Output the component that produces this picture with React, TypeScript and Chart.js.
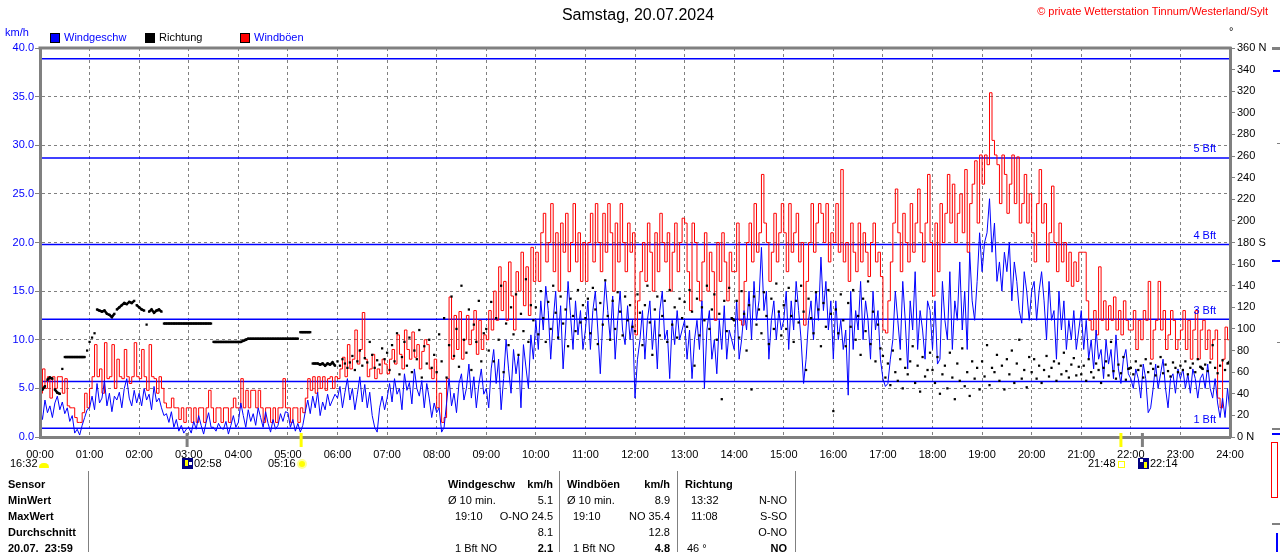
import React, { useEffect, useRef } from 'react';
import { Chart, registerables } from 'chart.js';

Chart.register(...registerables);

const FONT = '"Liberation Sans", Arial, Helvetica, sans-serif';

// 3-minute samples from 00:00 to 24:00 (481 values), one row per hour
const windSpeed = [
  3.0, 1.8, 3.8, 2.5, 3.2, 2.0, 3.5, 4.2, 2.8, 3.6, 2.4, 3.0, 1.6, 2.2, 0.4, 0.8, 0.2, 1.2, 2.0, 2.8,
  3.0, 4.2, 2.8, 5.5, 3.5, 4.0, 5.8, 3.2, 4.5, 2.6, 4.2, 3.8, 4.6, 3.0, 5.0, 6.0, 4.0, 3.2, 4.8, 3.5,
  4.5, 3.2, 5.0, 3.8, 4.4, 2.8, 5.2, 3.6, 4.0, 3.0, 2.2, 2.4, 1.5, 2.6, 1.0, 1.8, 0.6, 1.2, 0.4, 0.8,
  1.0, 0.4, 1.6, 0.8, 2.2, 1.2, 0.3, 1.5, 2.5, 1.0, 1.0, 0.6, 1.4, 0.9, 0.8, 1.6, 0.3, 1.2, 2.2, 1.0,
  1.5, 3.5, 2.2, 1.0, 2.8, 1.6, 2.4, 1.2, 3.0, 2.0, 1.0, 2.6, 1.4, 0.5, 1.8, 0.8, 1.2, 2.4, 1.6, 2.6,
  2.5, 1.0, 1.8, 0.6, 1.4, 0.5, 1.2, 2.6, 3.8, 2.4, 4.2, 3.0, 4.6, 2.2, 3.6, 2.8, 4.4, 3.2, 3.8, 4.4,
  4.0, 5.2, 3.0, 4.6, 6.0, 3.8, 5.0, 2.8, 4.4, 6.2, 3.6, 5.4, 3.0, 4.6, 2.2, 1.0, 0.5, 3.0, 4.2, 2.8,
  4.0, 5.5, 3.6, 6.0, 4.4, 5.0, 2.8, 6.5, 4.8, 5.6, 3.4, 7.0, 5.0, 4.2, 5.8, 3.0, 5.5, 4.0, 2.0, 3.5,
  2.5, 3.0, 0.5, 1.0, 3.5, 6.0, 3.2, 4.5, 2.5, 5.5, 6.5, 3.8, 5.0, 7.5, 4.0, 6.2, 3.0, 5.4, 7.0, 4.4,
  5.0, 3.0, 7.0, 9.0, 5.5, 8.0, 2.8, 6.0, 10.0, 7.0, 4.5, 9.0, 6.5, 8.4, 3.0, 9.5, 7.2, 5.0, 10.5, 8.0,
  12, 9, 14, 11, 15.5, 13, 8, 12, 15, 10, 13.5, 7, 11, 16, 12.5, 9, 14, 10.5, 13, 9,
  11, 14, 9, 13, 15, 11, 6.5, 12, 16, 13, 10, 14.5, 8, 12, 15, 11, 9.5, 13.5, 10, 12,
  4, 8, 10, 13, 8, 12, 14, 9, 12, 7, 13, 15, 10, 11, 6, 12, 9.5, 13, 10, 11,
  12, 8, 11, 6, 10, 12, 9, 14, 5, 11, 13, 8, 10, 6.5, 12, 9, 13.5, 8, 11, 10,
  9, 14, 8, 10, 13, 11, 15, 10, 16, 12, 14, 19.5, 13, 15, 8, 12, 14, 10, 13, 11,
  12, 15, 9, 14, 11, 16, 13, 10, 5.5, 8, 12, 14, 10, 15, 12, 18.5, 13, 16, 11, 14,
  8, 14, 10, 12, 9, 11, 4.3, 15, 9, 13, 11, 16, 10, 14, 12, 8, 15, 11, 13, 8,
  6, 5.2, 5.5, 8, 10, 15, 12, 9, 16, 12, 7, 14, 11, 17, 9, 13, 11, 8, 14, 13,
  9, 14, 7.5, 8, 16, 12, 10, 17, 9, 14, 12, 18, 11, 15, 9, 19, 14, 12, 16, 21,
  17, 20, 21, 24.5, 19, 22, 16, 18, 15, 19, 17, 20, 14, 18, 16, 13, 11.7, 17, 15, 12,
  15, 16, 12, 15, 17, 14, 10, 16, 12, 13, 8, 15, 11, 14, 9, 12, 10, 13, 9, 11,
  13, 9, 12, 8, 10, 7, 11, 8, 9, 6, 10, 7.5, 9, 6, 10.5, 7, 5.5, 8, 9, 6.5,
  6, 5, 7, 6, 4, 7.5, 6, 2.5, 3, 5, 7.5, 5, 6.5, 8, 5, 3, 6, 6.5, 4.5, 7,
  6, 7, 5, 6.5, 4.5, 7, 6, 4, 6, 6.5, 5, 7.5, 5, 4, 6, 3.5, 2, 4, 2, 5,
  2.5,
];

const windGust = [
  4.5, 7.0, 5.0, 6.2, 4.0, 6.2, 5.0, 6.2, 6.2, 4.5, 6.0, 3.2, 3.0, 3.0, 2.0, 1.5, 1.5, 2.5, 4.5, 3.0,
  5.0, 6.2, 9.5, 6.2, 7.0, 4.5, 9.7, 6.0, 6.2, 9.5, 5.0, 8.0, 6.2, 6.0, 9.0, 6.2, 5.5, 6.2, 9.7, 6.2,
  6.0, 9.0, 6.2, 4.8, 9.5, 6.2, 6.0, 4.5, 6.2, 5.0, 3.5, 3.0, 3.0, 4.0, 3.0, 3.0, 1.8, 3.0, 1.5, 3.0,
  3.0, 1.5, 3.0, 1.5, 3.0, 3.0, 1.5, 3.0, 4.8, 3.0, 1.5, 3.0, 3.0, 1.5, 3.0, 3.0, 1.5, 3.0, 4.0, 3.0,
  3.0, 6.0, 3.0, 4.8, 3.0, 4.8, 4.8, 3.0, 4.8, 3.0, 1.5, 3.0, 3.0, 1.5, 3.0, 1.5, 3.0, 3.0, 6.0, 3.0,
  3.0, 1.5, 3.0, 3.0, 1.5, 3.0, 2.5, 4.0, 6.0, 4.8, 6.2, 4.5, 6.2, 5.0, 6.2, 4.8, 6.0, 6.2, 5.0, 6.2,
  6.0, 7.0, 8.2, 6.2, 9.5, 7.0, 8.0, 11.0, 7.5, 9.0, 12.8, 8.0, 6.2, 7.0, 8.5, 6.0, 7.0, 6.5, 8.0, 7.5,
  6.5, 8.0, 9.0, 7.5, 10.5, 8.5, 7.0, 11.0, 9.0, 8.0, 10.8, 8.2, 9.5, 7.0, 8.8, 10.0, 9.5, 7.0, 6.0, 8.0,
  3.0, 4.5, 1.5, 2.0, 6.0, 14.4, 8.0, 12.5, 9.0, 12.9, 8.0, 10.0, 12.5, 9.5, 11.0, 13.0, 8.5, 12.0, 9.0, 10.5,
  10, 13, 11, 15, 12, 17.5, 13, 16, 12, 18, 14.5, 11, 17, 15, 19, 13.5, 17.5, 12.5, 19.5, 16,
  19, 16, 21, 23, 18, 20, 24, 17, 21, 15, 22, 19, 23, 17, 20, 24, 18, 21, 16, 20,
  16, 20, 23, 18, 24, 20, 17, 23, 19, 24, 21, 15, 22, 18, 24, 20, 17, 22, 19, 21,
  10.5, 14, 17, 20, 16, 22, 19, 15, 21, 17, 23, 20, 18, 21, 15, 19, 22, 17, 20, 22.5,
  22, 17, 13, 22, 20, 16, 14, 18, 21, 15, 19, 17, 12, 20, 16, 21, 18, 14, 19, 17,
  17, 22, 12, 11.5, 16, 20, 22, 18, 24, 19, 21, 27, 22, 20, 16, 19, 23, 18, 21, 24,
  21, 17, 24, 19, 21, 23, 18, 20, 11.5, 16, 20, 24, 19, 22, 24, 23, 20, 24, 18, 21,
  20, 24, 19, 27.5, 18, 20, 16, 22, 19, 17, 22, 18, 21, 19, 16.5, 20, 22, 18, 19, 16.5,
  11, 10.7, 14, 18, 22, 25.5, 21, 17, 23, 20, 18, 24, 19, 22, 25.5, 21, 18, 22, 27, 20,
  14.5, 22, 17, 24, 20, 23, 27, 22, 26, 20, 23, 25, 21, 27.5, 19, 24, 26, 28.4, 22, 29,
  26, 29, 28, 35.4, 30.5, 29, 28, 24, 29, 27, 23, 26, 29, 24, 28.8, 22, 24, 27, 22, 25,
  21, 18, 24, 27.5, 22, 24, 18, 21, 25.8, 20, 17, 22, 18, 20, 16, 19, 15.5, 18, 16, 19,
  19, 19, 14, 12, 11, 13, 10.5, 17.5, 12, 14, 11, 13.5, 12, 14.4, 11, 13, 10.5, 14, 12, 11,
  11, 13, 9, 12, 10, 13, 12, 16, 8, 11, 12, 16, 11, 13, 9, 10.5, 13, 12, 9, 10,
  11, 13, 9, 12, 8, 11, 13, 8, 11, 12, 9, 11, 8, 10, 11, 4, 3, 8, 11.3, 10,
  9,
];

const windDirection = [
  45, 44, 47, 53, 55, 54, 44, 41, 40, 63, 74, 74, 74, 74, 74, 74, 74, 74, 74, 80,
  88, 92, 96, 118, 117, 116, 117, 114, 113, 111, 114, 118, 120, 122, 124, 123, 125, 124, 126, 122,
  120, 118, 117, 104, 116, 118, 115, 117, 118, 116, 105, 105, 105, 105, 105, 105, 105, 105, 105, 105,
  105, 105, 105, 105, 105, 105, 105, 105, 105, 105, 88, 88, 88, 88, 88, 88, 88, 88, 88, 88,
  88, 88, 89, 90, 91, 91, 91, 91, 91, 91, 91, 91, 91, 91, 91, 91, 91, 91, 91, 91,
  91, 91, 91, 91, 91, 97, 97, 97, 97, 97, 68, 68, 68, 67, 68, 66, 68, 67, 69, 66,
  70, 66, 72, 68, 64, 69, 75, 62, 70, 80, 66, 73, 69, 88, 76, 64, 71, 67, 82, 72,
  78, 62, 85, 70, 96, 58, 74, 88, 66, 92, 60, 80, 72, 99, 55, 84, 68, 90, 64, 76,
  60, 95, 70, 110, 55, 85, 130, 75, 100, 65, 140, 90, 78, 118, 62, 104, 88, 126, 70, 96,
  100, 80, 125, 70, 110, 90, 140, 60, 105, 85, 120, 95, 132, 76, 114, 98, 146, 88, 122, 108,
  120, 95, 135, 110, 88, 125, 100, 140, 115, 92, 130, 105, 118, 84, 128, 112, 98, 136, 106, 122,
  110, 128, 96, 138, 118, 86, 124, 104, 145, 112, 90, 126, 100, 134, 116, 94, 130, 108, 122, 102,
  98, 132, 115, 85, 122, 140, 106, 76, 118, 130, 94, 112, 126, 88, 136, 104, 120, 92, 128, 110,
  125, 102, 136, 116, 66, 128, 94, 120, 108, 140, 100, 118, 132, 90, 114, 35, 126, 98, 138, 110,
  108, 126, 92, 135, 114, 80, 122, 44, 130, 104, 118, 96, 134, 112, 86, 128, 100, 142, 116, 94,
  122, 100, 138, 112, 88, 126, 106, 140, 116, 62, 128, 110, 96, 134, 118, 84, 124, 102, 136, 114,
  24, 118, 96, 132, 108, 84, 124, 102, 136, 90, 112, 76, 128, 98, 144, 86, 116, 70, 104, 82,
  75, 55, 68, 48, 80, 60, 52, 72, 45, 64, 58, 70, 84, 50, 66, 42, 74, 56, 62, 78,
  62, 50, 74, 40, 58, 66, 45, 78, 55, 35, 68, 52, 82, 47, 60, 38, 70, 54, 64, 44,
  70, 56, 85, 48, 64, 60, 76, 52, 66, 44, 72, 58, 80, 50, 68, 90, 54, 62, 46, 74,
  60, 72, 54, 66, 50, 62, 75, 56, 64, 70, 52, 68, 58, 78, 61, 55, 67, 73, 57, 65,
  58, 66, 52, 72, 60, 55, 68, 62, 50, 64, 70, 57, 88, 61, 54, 67, 59, 74, 53, 63,
  64, 58, 70, 62, 66, 55, 72, 60, 68, 63, 57, 65, 74, 59, 67, 61, 56, 69, 64, 60,
  66, 62, 70, 58, 64, 68, 60, 72, 65, 63, 67, 61, 69, 85, 64, 59, 66, 71, 62, 68,
  70,
];

const sampleMinutes = windSpeed.map((_, i) => i * 3);

const hourLabels = [
  '00:00', '01:00', '02:00', '03:00', '04:00', '05:00', '06:00', '07:00', '08:00',
  '09:00', '10:00', '11:00', '12:00', '13:00', '14:00', '15:00', '16:00', '17:00',
  '18:00', '19:00', '20:00', '21:00', '22:00', '23:00', '24:00',
];

const dirTickLabels: Record<number, string> = { 360: '360 N', 180: '180 S', 0: '0 N' };

const bftLevels = [0.9, 5.7, 12.1, 19.8, 28.7, 38.9];
const bftLabels = ['1 Bft', '', '3 Bft', '4 Bft', '5 Bft', ''];

// moonset, sunrise, sunset, moonrise (minutes of day)
const astroMinutes = [178, 316, 1308, 1334];
const astroColors = ['#808080', '#FFFF00', '#FFFF00', '#808080'];

const rowLabels = ['Sensor', 'MinWert', 'MaxWert', 'Durchschnitt', '20.07.  23:59'];
const windCol = [['Ø 10 min.', '5.1'], ['19:10', 'O-NO 24.5'], ['', '8.1'], ['1 Bft NO', '2.1']];
const gustCol = [['Ø 10 min.', '8.9'], ['19:10', 'NO 35.4'], ['', '12.8'], ['1 Bft NO', '4.8']];
const dirCol = [['13:32', 'N-NO'], ['11:08', 'S-SO'], ['', 'O-NO'], ['46 °', 'NO']];

type TxtProps = {
  x: number; cy: number; children: React.ReactNode; color?: string; size?: number;
  bold?: boolean; align?: 'left' | 'right' | 'center';
};
const Txt = ({ x, cy, children, color = '#000', size = 11, bold = false, align = 'left' }: TxtProps) => {
  const style: React.CSSProperties = {
    position: 'absolute', top: cy - size * 0.6, lineHeight: `${Math.round(size * 1.2)}px`,
    fontSize: size, fontWeight: bold ? 'bold' : 'normal', color, whiteSpace: 'pre', fontFamily: FONT,
  };
  if (align === 'left') style.left = x;
  else if (align === 'right') style.right = 1280 - x;
  else { style.left = x - 300; style.width = 600; style.textAlign = 'center'; }
  return <div style={style}>{children}</div>;
};

const Box = (p: { l: number; t: number; w: number; h: number; bg?: string; border?: string; radius?: string }) => (
  <div style={{
    position: 'absolute', left: p.l, top: p.t, width: p.w, height: p.h, background: p.bg || 'transparent',
    border: p.border, borderRadius: p.radius, boxSizing: 'border-box',
  }} />
);

export default function App() {
  const ref = useRef<HTMLCanvasElement | null>(null);

  useEffect(() => {
    const canvas = ref.current;
    if (!canvas) return;
    const xy = (arr: number[]) => arr.map((v, i) => ({ x: sampleMinutes[i], y: v }));

    const overlay = {
      id: 'overlay',
      beforeDatasetsDraw(chart: any) {
        const { ctx, chartArea: a, scales } = chart;
        ctx.save();
        ctx.strokeStyle = '#0000FF';
        ctx.lineWidth = 1.5;
        bftLevels.forEach((lv) => {
          const py = scales.y.getPixelForValue(lv);
          ctx.beginPath();
          ctx.moveTo(a.left, py);
          ctx.lineTo(a.right, py);
          ctx.stroke();
        });
        ctx.restore();
      },
      afterDatasetsDraw(chart: any) {
        const { ctx, chartArea: a, scales } = chart;
        ctx.save();
        ctx.fillStyle = '#0000FF';
        ctx.font = `11px ${FONT}`;
        ctx.textAlign = 'right';
        ctx.textBaseline = 'middle';
        bftLevels.forEach((lv, i) => {
          if (!bftLabels[i]) return;
          const py = scales.y.getPixelForValue(lv);
          ctx.fillText(bftLabels[i], a.right - 14, py - 8.5);
        });
        ctx.restore();
      },
      afterDraw(chart: any) {
        const { ctx, chartArea: a, scales } = chart;
        ctx.save();
        ctx.strokeStyle = '#808080';
        ctx.lineWidth = 3;
        ctx.beginPath();
        ctx.moveTo(a.left - 1.5, a.top);
        ctx.lineTo(a.right + 1.5, a.top);
        ctx.stroke();
        astroMinutes.forEach((m, i) => {
          const px = scales.x.getPixelForValue(m);
          ctx.strokeStyle = astroColors[i];
          ctx.lineWidth = 3;
          ctx.beginPath();
          ctx.moveTo(px, a.bottom - 4);
          ctx.lineTo(px, a.bottom + 10);
          ctx.stroke();
        });
        ctx.restore();
      },
    };

    const tickFont = { family: FONT, size: 11 };

    const chart = new Chart(canvas, {
      type: 'line',
      data: {
        datasets: [
          {
            label: 'Richtung',
            yAxisID: 'y1',
            data: xy(windDirection),
            showLine: true,
            borderColor: '#000',
            borderWidth: 2.5,
            segment: {
              borderColor: (c: any) => (Math.abs(c.p0.parsed.y - c.p1.parsed.y) <= 3 ? '#000' : 'rgba(0,0,0,0)'),
            },
            pointRadius: 1.6,
            pointStyle: 'rect',
            pointBackgroundColor: '#000',
            pointBorderWidth: 0,
            pointHoverRadius: 0,
            tension: 0,
          },
          {
            label: 'Windgeschw',
            yAxisID: 'y',
            data: xy(windSpeed),
            borderColor: '#0000FF',
            borderWidth: 1,
            pointRadius: 0,
            tension: 0,
          },
          {
            label: 'Windböen',
            yAxisID: 'y',
            data: xy(windGust),
            borderColor: '#FF0000',
            borderWidth: 1,
            pointRadius: 0,
            stepped: true,
          },
        ] as any,
      },
      options: {
        responsive: true,
        maintainAspectRatio: false,
        animation: false,
        events: [],
        layout: { padding: { top: 48, left: 0, right: 0, bottom: 0 } },
        plugins: { legend: { display: false }, tooltip: { enabled: false }, title: { display: false } },
        scales: {
          x: {
            type: 'linear',
            position: 'bottom',
            min: 0,
            max: 1440,
            afterFit: (s: any) => { s.height = 115; },
            ticks: {
              stepSize: 60, autoSkip: false, maxRotation: 0, minRotation: 0, color: '#000', padding: 11,
              font: tickFont,
              callback: (v: any) => hourLabels[Math.round(Number(v) / 60)] ?? '',
            },
            grid: { color: '#808080', lineWidth: 1, drawTicks: false },
            border: { display: true, color: '#808080', width: 3, dash: [3, 3], z: 1 },
          },
          y: {
            position: 'left',
            min: 0,
            max: 40,
            afterFit: (s: any) => { s.width = 40; },
            ticks: {
              stepSize: 5, color: '#0000FF', padding: 1, font: tickFont,
              callback: (v: any) => Number(v).toFixed(1),
            },
            grid: { color: '#808080', lineWidth: 1, drawTicks: true, tickLength: 5, tickColor: '#808080', tickWidth: 1 },
            border: { display: true, color: '#808080', width: 3, dash: [3, 3], z: 1 },
          },
          y1: {
            position: 'right',
            min: 0,
            max: 360,
            afterFit: (s: any) => { s.width = 50; },
            ticks: {
              stepSize: 20, color: '#000', padding: 2, font: tickFont,
              callback: (v: any) => dirTickLabels[Number(v)] ?? String(v),
            },
            grid: { drawOnChartArea: false, drawTicks: true, tickLength: 5, color: '#808080', tickColor: '#808080' },
            border: { display: true, color: '#808080', width: 3, z: 1 },
          },
        },
      } as any,
      plugins: [overlay],
    });
    return () => chart.destroy();
  }, []);

  const rowCy = (i: number) => 485 + i * 15.8;

  return (
    <div style={{ position: 'fixed', left: 0, top: 0, width: 1280, height: 552, background: '#fff', overflow: 'hidden', fontFamily: FONT }}>
      <div style={{ position: 'absolute', left: 0, top: 0, width: 1280, height: 552 }}>
        <canvas ref={ref} />
      </div>

      <Txt x={638} cy={15} size={16} align="center">Samstag, 20.07.2024</Txt>
      <Txt x={1268} cy={12} color="#FF0000" align="right">© private Wetterstation Tinnum/Westerland/Sylt</Txt>
      <Txt x={5} cy={33} color="#0000FF">km/h</Txt>
      <Txt x={1229} cy={32}>°</Txt>

      <Box l={50} t={33} w={10} h={10} bg="#0000FF" border="1px solid #000" />
      <Txt x={64} cy={38} color="#0000FF">Windgeschw</Txt>
      <Box l={145} t={33} w={10} h={10} bg="#000" border="1px solid #000" />
      <Txt x={159} cy={38}>Richtung</Txt>
      <Box l={240} t={33} w={10} h={10} bg="#FF0000" border="1px solid #000" />
      <Txt x={254} cy={38} color="#0000FF">Windböen</Txt>

      {/* sun / moon row */}
      <Txt x={10} cy={464}>16:32</Txt>
      <Box l={39} t={463} w={10} h={5} bg="#FFFF00" radius="5px 5px 1px 1px" />
      <Box l={182} t={458} w={11} h={11} bg="#000080" />
      <Box l={185} t={460} w={3} h={6} bg="#FFFF00" />
      <Box l={189} t={462} w={3} h={3} bg="#FFFFFF" />
      <Txt x={194} cy={464}>02:58</Txt>
      <Txt x={268} cy={464}>05:16</Txt>
      <Box l={297} t={459} w={10} h={10} bg="#FFFF00" radius="50%" border="2px solid #FFFF99" />
      <Txt x={1088} cy={464}>21:48</Txt>
      <Box l={1118} t={461} w={7} h={7} border="1px solid #FFFF00" />
      <Box l={1138} t={458} w={11} h={11} bg="#000080" />
      <Box l={1140} t={459} w={3} h={3} bg="#FFFFFF" />
      <Box l={1144} t={462} w={3} h={6} bg="#FFFF00" />
      <Txt x={1150} cy={464}>22:14</Txt>

      {/* statistics table */}
      {rowLabels.map((r, i) => (
        <Txt key={r} x={8} cy={rowCy(i)} bold>{r}</Txt>
      ))}
      <Box l={88} t={471} w={1} h={81} bg="#808080" />
      <Box l={559} t={471} w={1} h={81} bg="#808080" />
      <Box l={677} t={471} w={1} h={81} bg="#808080" />
      <Box l={795} t={471} w={1} h={81} bg="#808080" />

      <Txt x={448} cy={rowCy(0)} bold>Windgeschw</Txt>
      <Txt x={553} cy={rowCy(0)} bold align="right">km/h</Txt>
      <Txt x={567} cy={rowCy(0)} bold>Windböen</Txt>
      <Txt x={670} cy={rowCy(0)} bold align="right">km/h</Txt>
      <Txt x={685} cy={rowCy(0)} bold>Richtung</Txt>

      {windCol.map((c, i) => (
        <React.Fragment key={'w' + i}>
          <Txt x={i === 0 ? 448 : 455} cy={rowCy(i + 1)}>{c[0]}</Txt>
          <Txt x={553} cy={rowCy(i + 1)} align="right" bold={i === 3}>{c[1]}</Txt>
        </React.Fragment>
      ))}
      {gustCol.map((c, i) => (
        <React.Fragment key={'g' + i}>
          <Txt x={i === 0 ? 567 : 573} cy={rowCy(i + 1)}>{c[0]}</Txt>
          <Txt x={670} cy={rowCy(i + 1)} align="right" bold={i === 3}>{c[1]}</Txt>
        </React.Fragment>
      ))}
      {dirCol.map((c, i) => (
        <React.Fragment key={'d' + i}>
          <Txt x={i === 3 ? 687 : 691} cy={rowCy(i + 1)}>{c[0]}</Txt>
          <Txt x={787} cy={rowCy(i + 1)} align="right" bold={i === 3}>{c[1]}</Txt>
        </React.Fragment>
      ))}

      {/* edge of neighbouring panel */}
      <Box l={1272} t={47} w={8} h={3} bg="#808080" />
      <Box l={1273} t={70} w={7} h={1.5} bg="#0000FF" />
      <Box l={1277} t={143} w={3} h={1} bg="#808080" />
      <Box l={1272} t={260} w={8} h={1.5} bg="#0000FF" />
      <Box l={1277} t={342} w={3} h={1} bg="#808080" />
      <Box l={1272} t={428} w={8} h={2} bg="#808080" />
      <Box l={1272} t={433} w={8} h={1.5} bg="#0000FF" />
      <Box l={1271} t={442} w={7} h={56} border="1.5px solid #FF0000" />
      <Box l={1272} t={523} w={8} h={2} bg="#808080" />
      <Box l={1276} t={533} w={2} h={19} bg="#0000FF" />
    </div>
  );
}
